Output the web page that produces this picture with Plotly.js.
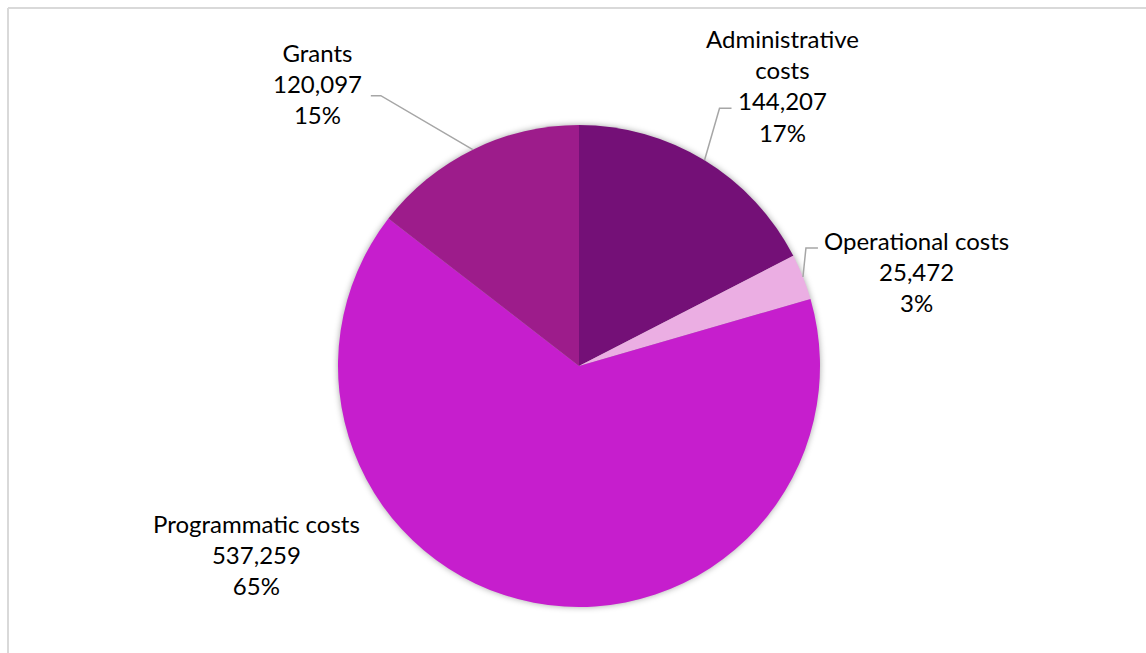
<!DOCTYPE html>
<html>
<head>
<meta charset="utf-8">
<script src="https://cdn.plot.ly/plotly-3.0.1.min.js"></script>
<style>
html,body{margin:0;padding:0;background:#fff;}
#chart{width:1146px;height:653px;}
.pielayer{filter:drop-shadow(0 0 3px rgba(0,0,0,0.35));}
</style>
</head>
<body>
<div id="chart"></div>
<script>
// ---- data ----
const categories = ["Administrative costs", "Operational costs", "Programmatic costs", "Grants"];
const labelText = ["Administrative<br>costs", "Operational costs", "Programmatic costs", "Grants"];
const values = [144207, 25472, 537259, 120097];
const colors = ["#741077", "#EBAEE3", "#C61ECD", "#9D1C8B"];

// ---- layout / styling ----
const W = 1146, H = 653;
const CX = 579, CY = 366, R = 241;            // pie centre and radius in pixels
// per-slice label placement relative to the slice's outer mid point (pixels)
const labelOffset = [[78, -75], [114, -5], [-277, -48], [-155, -66]];
// leader lines: elbow offset relative to edge point, then horizontal stub length
const leaderElbow = [[15, -52], [3, -29], null, [-92, -54]];
const leaderStub = [12, 12, 0, -10];

const total = values.reduce((a, b) => a + b, 0);
const px = x => x / W;
const py = y => 1 - y / H;

const annotations = [];
const shapes = [];
let cum = 0;
values.forEach((v, i) => {
  const mid = (cum + v / 2) / total * 2 * Math.PI;   // clockwise from 12 o'clock
  cum += v;
  const ex = CX + R * Math.sin(mid);
  const ey = CY - R * Math.cos(mid);
  const pct = Math.round(v / total * 100);
  annotations.push({
    xref: 'paper', yref: 'paper',
    x: px(ex + labelOffset[i][0]), y: py(ey + labelOffset[i][1]),
    xanchor: 'center', yanchor: 'middle',
    text: labelText[i] + '<br>' + v.toLocaleString('en-US') + '<br>' + pct + '%',
    showarrow: false, align: 'center',
    font: {family: 'Lato, "Open Sans", sans-serif', size: 24, color: '#000'}
  });
  if (leaderElbow[i]) {
    const bx = ex + leaderElbow[i][0], by = ey + leaderElbow[i][1];
    const sx = bx + leaderStub[i];
    shapes.push({
      type: 'path', xref: 'paper', yref: 'paper',
      path: `M${px(ex)},${py(ey)} L${px(bx)},${py(by)} L${px(sx)},${py(by)}`,
      line: {color: '#a6a6a6', width: 1.5}
    });
  }
});

// chart frame
shapes.push({type: 'line', xref: 'paper', yref: 'paper', x0: px(8), y0: py(8), x1: 1, y1: py(8), line: {color: '#d9d9d9', width: 2}});
shapes.push({type: 'line', xref: 'paper', yref: 'paper', x0: px(8), y0: py(8), x1: px(8), y1: 0, line: {color: '#d9d9d9', width: 2}});

const trace = {
  type: 'pie',
  labels: categories,
  values: values,
  sort: false,
  direction: 'clockwise',
  rotation: 0,
  textinfo: 'none',
  hoverinfo: 'label+value+percent',
  marker: {colors: colors, line: {width: 0}},
  domain: {x: [px(CX - R), px(CX + R)], y: [py(CY + R), py(CY - R)]},
  showlegend: false
};

Plotly.newPlot('chart', [trace], {
  width: W, height: H,
  margin: {l: 0, r: 0, t: 0, b: 0},
  paper_bgcolor: '#fff',
  showlegend: false,
  annotations: annotations,
  shapes: shapes
}, {displayModeBar: false, staticPlot: true});
</script>
</body>
</html>
